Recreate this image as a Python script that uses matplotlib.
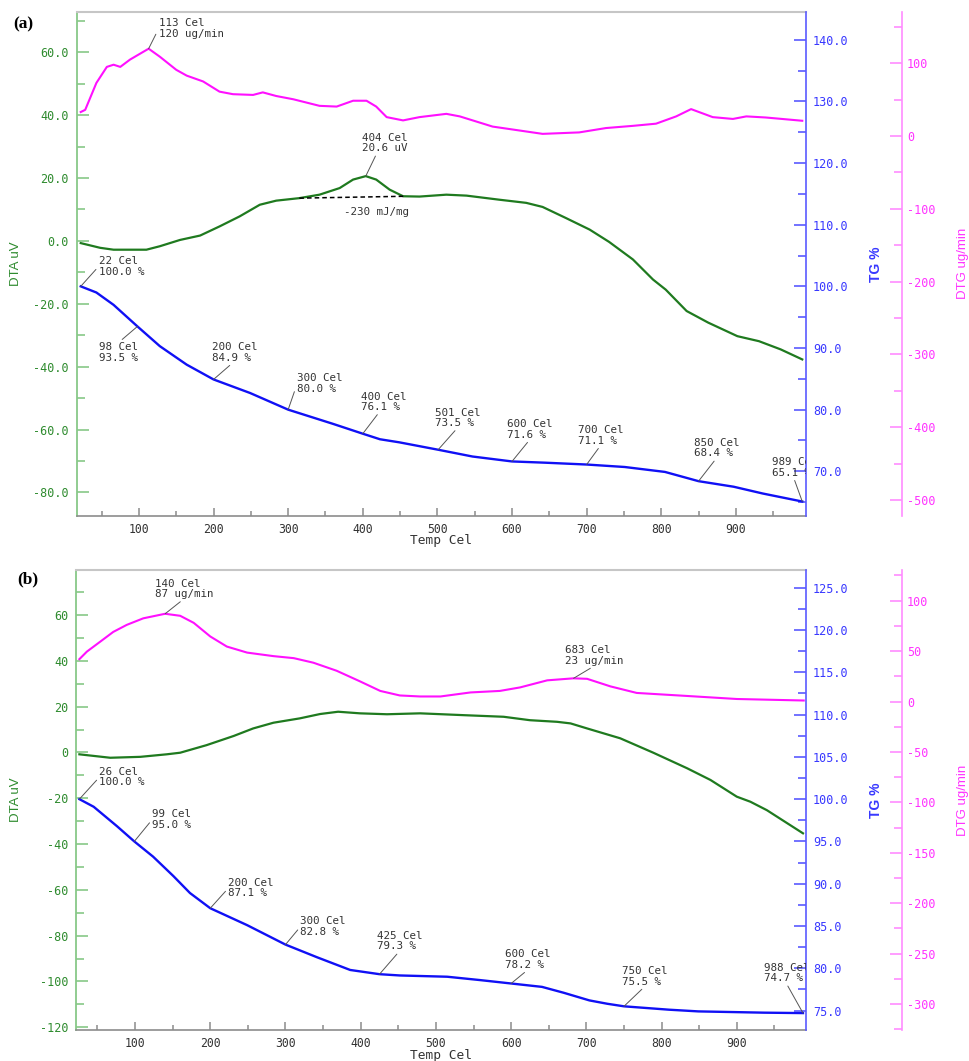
import matplotlib
matplotlib.use('Agg')
import numpy as np
import matplotlib.pyplot as plt
from matplotlib.ticker import MultipleLocator, FormatStrFormatter

# ---- sample (a) ----
dta_a_temp = [22, 48, 66, 110, 128, 155, 182, 208, 235, 262, 284, 315, 342, 369, 387, 404,
              418, 436, 454, 476, 512, 539, 583, 619, 641, 672, 704, 730, 762, 789, 806,
              834, 863, 902, 931, 960, 989]
dta_a_val = [-0.7, -2.2, -2.8, -2.8, -1.7, 0.3, 1.7, 4.6, 7.8, 11.5, 12.8, 13.6, 14.7, 16.8,
             19.5, 20.6, 19.5, 16.3, 14.2, 14.1, 14.7, 14.4, 13.1, 12.1, 10.8, 7.3, 3.6, -0.3,
             -5.9, -12.3, -15.5, -22.3, -26.0, -30.3, -31.9, -34.5, -37.7]

dtg_a_temp = [22, 28, 43, 57, 66, 75, 88, 113, 128, 150, 164, 186, 208, 226, 253, 266, 284,
              307, 342, 365, 387, 405, 418, 432, 454, 476, 512, 530, 574, 641, 690, 726, 762,
              793, 820, 840, 869, 896, 914, 940, 989]
dtg_a_val = [33, 36, 73, 95, 98, 95, 105, 120, 109, 91, 83, 75, 61, 57.5, 56.5, 60, 55, 50.5,
             41.5, 40.5, 48.5, 48.5, 40.5, 26, 21.5, 26, 30.5, 27, 13, 3, 5, 11, 14, 17, 27,
             37, 26, 23.5, 27, 25.5, 21]

tg_a_temp = [22, 43, 66, 98, 128, 164, 200, 249, 300, 360, 400, 423, 449, 501, 547, 600, 644,
             700, 751, 805, 850, 897, 936, 989]
tg_a_val = [100.0, 99.0, 97.0, 93.5, 90.3, 87.3, 84.9, 82.7, 80.0, 77.7, 76.1, 75.2, 74.7,
            73.5, 72.4, 71.6, 71.4, 71.1, 70.7, 69.9, 68.4, 67.5, 66.4, 65.1]

tg_a_marks = [22, 98, 200, 300, 400, 501, 600, 700, 850, 989]
dtg_a_marks = [113]
dta_a_marks = [404]
peak_a_limits = (315, 456)
peak_a_enthalpy = '-230 mJ/mg'

# ---- sample (b) ----
dta_b_temp = [26, 67, 107, 142, 160, 195, 231, 257, 284, 319, 346, 370, 399, 435, 479, 537,
              590, 625, 661, 679, 701, 745, 789, 834, 865, 900, 918, 940, 988]
dta_b_val = [-0.8, -2.3, -1.9, -0.8, -0.1, 3.2, 7.2, 10.5, 13.0, 14.9, 16.8, 17.8, 17.1, 16.7,
             17.1, 16.3, 15.6, 14.1, 13.4, 12.7, 10.5, 6.2, -0.1, -6.9, -12.0, -19.3, -21.5,
             -25.2, -35.3]

dtg_b_temp = [26, 36, 54, 71, 89, 111, 140, 160, 178, 200, 222, 249, 284, 311, 337, 368, 399,
              426, 452, 479, 506, 546, 585, 612, 648, 683, 701, 732, 767, 834, 900, 989]
dtg_b_val = [42, 49.5, 59.5, 69, 76, 82.5, 87, 85, 78, 64.5, 54.5, 48.5, 45, 43, 38.5, 30.5,
             20, 10.5, 6, 5, 5, 9, 10.5, 14, 21, 23, 22.5, 15, 8.5, 5.5, 2.5, 1]

tg_b_temp = [26, 45, 76, 99, 124, 151, 173, 200, 249, 300, 342, 386, 425, 452, 515, 559, 600,
             641, 670, 704, 728, 750, 810, 849, 936, 988]
tg_b_val = [100.0, 99.1, 96.8, 95.0, 93.2, 90.9, 88.9, 87.1, 85.1, 82.8, 81.3, 79.8, 79.3,
            79.15, 79.0, 78.6, 78.2, 77.8, 77.1, 76.2, 75.8, 75.5, 75.1, 74.9, 74.75, 74.7]

tg_b_marks = [26, 99, 200, 300, 425, 600, 750, 988]
dtg_b_marks = [140, 683]

# label placement: pixel offset of the text block and where the leader meets it
tg_a_place = [(18, 20, (0, 0.5)), (-38, -26, (0.5, 1)), (-2, 27, (0.47, 0)), (9, 26, (0, 0.5)),
              (-2, 32, (0.41, 0)), (-3, 32, (0.49, 0)), (-5, 32, (0.5, 0)), (-9, 29, (0.5, 0)),
              (-5, 33, (0.5, 0)), (-30, 34, (0.47, 0))]
dtg_a_place = [(10, 20, (0, 0.5))]
dta_a_place = [(-4, 33, (0.33, 0))]
tg_b_place = [(20, 22, (0, 0.5)), (18, 22, (0, 0.5)), (18, 20, (0, 0.5)), (15, 18, (0, 0.5)),
              (-3, 33, (0.5, 0)), (-6, 24, (0.5, 0)), (-2, 30, (0.5, 0)), (-39, 40, (0.49, 0))]
dtg_b_place = [(-10, 25, (0.49, 0)), (-9, 23, (0.52, 0))]

GREEN = '#1f7a1f'
GREEN_AX = '#88c888'
GREEN_TX = '#2e8b2e'
BLUE = '#1010f5'
BLUE_AX = '#5a5aff'
BLUE_TX = '#3838ff'
MAGENTA = '#ff10ff'
MAGENTA_AX = '#ff8cff'
MAGENTA_TX = '#ff33ff'
MONO = 'DejaVu Sans Mono'
SANS = 'Liberation Sans'

W, H = 970, 1061


def mark(ax, t, v, text, place):
    dx, dy, rel = place
    a = ax.annotate(text, xy=(t, v), xytext=(dx, dy), textcoords='offset pixels',
                    ha='left', va='center', fontfamily=MONO, fontsize=7.8, color='#333333',
                    linespacing=1.05,
                    arrowprops=dict(arrowstyle='-', color='#555555', lw=0.7,
                                    shrinkA=0, shrinkB=0, relpos=rel),
                    annotation_clip=False)
    # labels running past the plot frame get cut at its edge
    a.set_clip_box(ax.bbox)
    a.set_clip_on(True)


def panel(box, xlim, dta_lim, tg_lim, dtg_lim, dta_step, tg_step, dtg_step, dta_fmt):
    left, top, right, bottom = box
    rect = [left / W, 1 - bottom / H, (right - left) / W, (bottom - top) / H]
    ax = plt.gcf().add_axes(rect)
    tg = ax.twinx()
    dtg = ax.twinx()

    ax.set_xlim(*xlim)
    ax.set_ylim(*dta_lim)
    tg.set_ylim(*tg_lim)
    dtg.set_ylim(*dtg_lim)

    ax.spines['right'].set_visible(False)
    ax.spines['top'].set_color('#c6c6c6')
    ax.spines['top'].set_linewidth(1.5)
    ax.spines['bottom'].set_color('#8c8c8c')
    ax.spines['bottom'].set_linewidth(1.2)
    ax.spines['left'].set_color(GREEN_AX)
    ax.spines['left'].set_linewidth(1.3)
    for a in (tg, dtg):
        for s in ('left', 'top', 'bottom'):
            a.spines[s].set_visible(False)
    tg.spines['right'].set_color(BLUE_AX)
    tg.spines['right'].set_linewidth(1.2)
    dtg.spines['right'].set_color(MAGENTA_AX)
    dtg.spines['right'].set_linewidth(1.2)
    dtg.spines['right'].set_position(('axes', 1 + 96 / (right - left)))

    ax.xaxis.set_major_locator(MultipleLocator(100))
    ax.xaxis.set_minor_locator(MultipleLocator(50))
    ax.tick_params(axis='x', which='both', direction='in', color='#8c8c8c', width=1.1,
                   labelsize=8.3, labelcolor='#333333', labelfontfamily=MONO, pad=5)
    ax.tick_params(axis='x', which='major', length=6)
    ax.tick_params(axis='x', which='minor', length=3.5)

    ax.yaxis.set_major_locator(MultipleLocator(dta_step))
    ax.yaxis.set_minor_locator(MultipleLocator(dta_step / 2))
    ax.yaxis.set_major_formatter(FormatStrFormatter(dta_fmt))
    tg.yaxis.set_major_locator(MultipleLocator(tg_step))
    tg.yaxis.set_minor_locator(MultipleLocator(tg_step / 2))
    tg.yaxis.set_major_formatter(FormatStrFormatter('%.1f'))
    dtg.yaxis.set_major_locator(MultipleLocator(dtg_step))
    dtg.yaxis.set_minor_locator(MultipleLocator(dtg_step / 2))
    dtg.yaxis.set_major_formatter(FormatStrFormatter('%d'))

    for a, col, txt, pad in ((ax, GREEN_AX, GREEN_TX, 5.5), (tg, BLUE_AX, BLUE_TX, 5),
                             (dtg, MAGENTA_AX, MAGENTA_TX, 3.6)):
        a.tick_params(axis='y', which='both', direction='in', color=col, width=1.2,
                      labelsize=8.5, labelcolor=txt, labelfontfamily=MONO, pad=pad)
        a.tick_params(axis='y', which='major', length=8.6)
        a.tick_params(axis='y', which='minor', length=5.5)

    ax.text(0.5, -25 / (bottom - top), 'Temp Cel', transform=ax.transAxes, ha='center',
            va='center', fontfamily=MONO, fontsize=9.3, color='#333333')
    ax.text(-(left - 16) / (right - left), 0.5, 'DTA uV', transform=ax.transAxes,
            rotation=90, ha='center', va='center', fontfamily=SANS, fontsize=9.5,
            color=GREEN_TX)
    ax.text((876 - left) / (right - left), 0.5, 'TG %', transform=ax.transAxes,
            rotation=90, ha='center', va='center', fontfamily=SANS, fontsize=10,
            color=BLUE_TX, fontweight='bold')
    ax.text((963 - left) / (right - left), 0.5, 'DTG ug/min', transform=ax.transAxes,
            rotation=90, ha='center', va='center', fontfamily=SANS, fontsize=9.5,
            color=MAGENTA_TX)
    return ax, tg, dtg


def value_at(temps, vals, t):
    return float(np.interp(t, temps, vals))


fig = plt.figure(figsize=(W / 100, H / 100), dpi=100)

# ---------- (a) ----------
ax, tg, dtg = panel((76.7, 12, 806, 515.7), (16.6, 994), (-87.4, 72.8), (62.8, 144.5),
                    (-521.5, 170.4), 20, 10, 100, '%.1f')
ax.plot(dta_a_temp, dta_a_val, color=GREEN, lw=1.6)
tg.plot(tg_a_temp, tg_a_val, color=BLUE, lw=1.7)
dtg.plot(dtg_a_temp, dtg_a_val, color=MAGENTA, lw=1.5)

t0, t1 = peak_a_limits
ax.plot([t0, t1], [value_at(dta_a_temp, dta_a_val, t0), value_at(dta_a_temp, dta_a_val, t1)],
        color='black', lw=1.1, ls=(0, (3, 2)))
ax.text(418, 9.2, peak_a_enthalpy, ha='center', va='center', fontfamily=MONO,
        fontsize=7.8, color='#333333')

for t, p in zip(tg_a_marks, tg_a_place):
    v = value_at(tg_a_temp, tg_a_val, t)
    mark(tg, t, v, f'{t} Cel\n{v:.1f} %', p)
for t, p in zip(dtg_a_marks, dtg_a_place):
    v = value_at(dtg_a_temp, dtg_a_val, t)
    mark(dtg, t, v, f'{t} Cel\n{v:g} ug/min', p)
for t, p in zip(dta_a_marks, dta_a_place):
    v = value_at(dta_a_temp, dta_a_val, t)
    mark(ax, t, v, f'{t} Cel\n{v:.1f} uV', p)

fig.text(13 / W, 1 - 24 / H, '(a)', fontfamily='Liberation Serif', fontweight='bold',
         fontsize=12.5, ha='left', va='center')

# ---------- (b) ----------
ax, tg, dtg = panel((76, 570, 806, 1030), (21.5, 992), (-121.2, 79.7), (72.7, 127.1),
                    (-325.7, 130.4), 20, 5, 50, '%d')
ax.plot(dta_b_temp, dta_b_val, color=GREEN, lw=1.6)
tg.plot(tg_b_temp, tg_b_val, color=BLUE, lw=1.7)
dtg.plot(dtg_b_temp, dtg_b_val, color=MAGENTA, lw=1.5)

for t, p in zip(tg_b_marks, tg_b_place):
    v = value_at(tg_b_temp, tg_b_val, t)
    mark(tg, t, v, f'{t} Cel\n{v:.1f} %', p)
for t, p in zip(dtg_b_marks, dtg_b_place):
    v = value_at(dtg_b_temp, dtg_b_val, t)
    mark(dtg, t, v, f'{t} Cel\n{v:g} ug/min', p)

fig.text(17 / W, 1 - 579 / H, '(b)', fontfamily='Liberation Serif', fontweight='bold',
         fontsize=12.5, ha='left', va='center')

fig.savefig('out.png', dpi=100)
